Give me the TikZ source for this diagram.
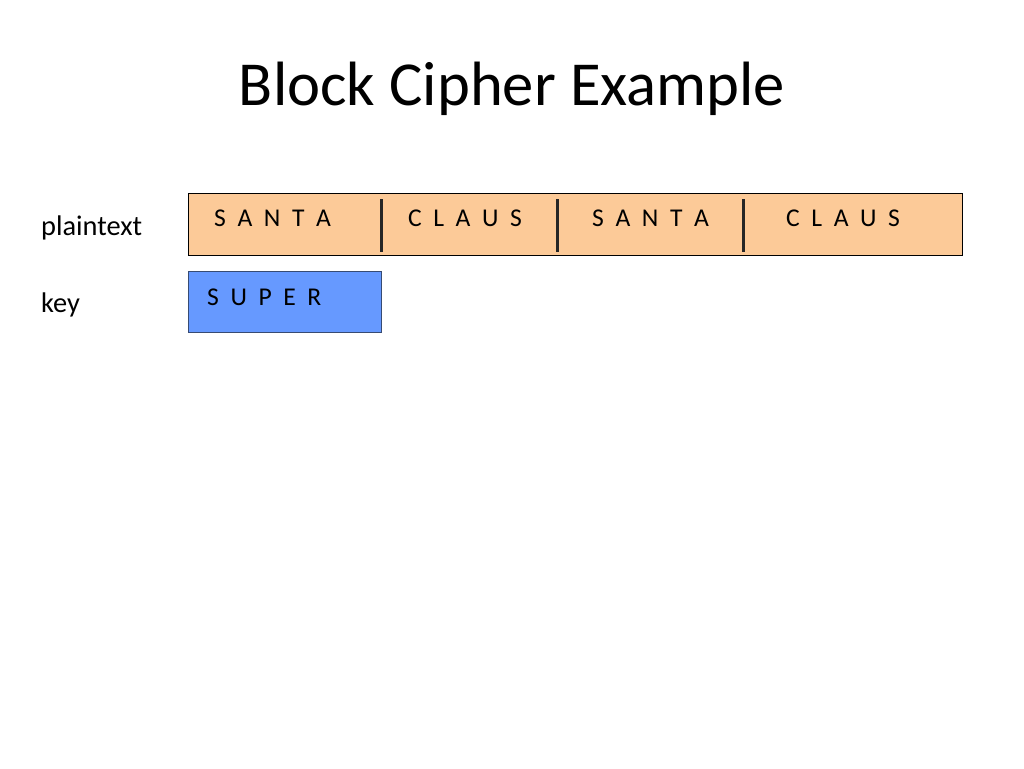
\documentclass[tikz,border=0pt]{standalone}
\usepackage{fontspec}
\setmainfont{Carlito}
\newfontfamily\spacedfont{Carlito}[WordSpace=2]
\definecolor{peach}{RGB}{252,202,152}
\definecolor{keyblue}{RGB}{102,153,255}
\definecolor{keyborder}{RGB}{55,75,115}
\begin{document}
\begin{tikzpicture}[x=1pt,y=-1pt,
  lbl/.style={anchor=base west,inner sep=0pt,font=\fontsize{28.4}{32}\selectfont},
  blk/.style={anchor=base west,inner sep=0pt,font=\spacedfont\fontsize{25.6}{30}\selectfont},
  divider/.style={line width=3pt,draw=black!85}]
\useasboundingbox (0,0) rectangle (1024,768);
\fill[white] (0,0) rectangle (1024,768);
\node[anchor=base,inner sep=0pt,font=\fontsize{62.6}{70}\selectfont] (title) at (512,105) {Block Cipher Example};
\node[lbl] (pl) at (41,235) {plaintext};
\node[lbl] (ky) at (41,312) {key};
\draw[fill=peach,line width=1pt] (188,193) rectangle (962,255);
\draw[fill=keyblue,draw=keyborder,line width=1pt] (188,271) rectangle (381,332);
\draw[divider] (381,199) -- (381,252);
\draw[divider] (557,199) -- (557,252);
\draw[divider] (743,199) -- (743,252);
\node[blk] (b1) at (214,226) {S A N T A};
\node[blk] (b2) at (408,226) {C L A U S};
\node[blk] (b3) at (592,226) {S A N T A};
\node[blk] (b4) at (786,226) {C L A U S};
\node[blk] (k1) at (207,305) {S U P E R};
\end{tikzpicture}
\end{document}
